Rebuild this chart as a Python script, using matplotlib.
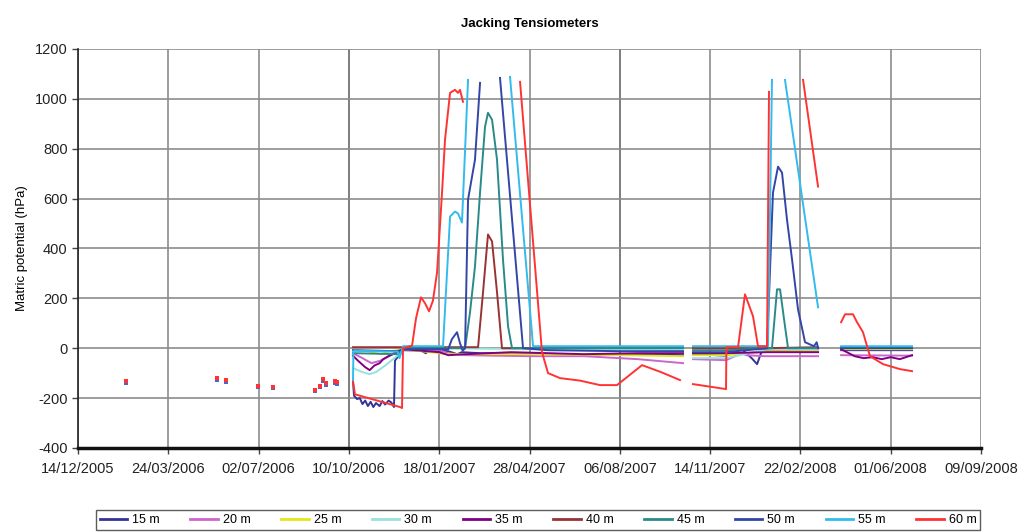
import numpy as np
import matplotlib
matplotlib.use("Agg")
import matplotlib.pyplot as plt
import matplotlib.dates as mdates
import datetime as dt

plt.rcParams['font.family'] = ['Liberation Sans', 'DejaVu Sans']
plt.rcParams['axes.unicode_minus'] = False

# x values are days after 14/12/2005 (first tick of the axis), nan = gap
start = mdates.date2num(dt.datetime(2005, 12, 14))
nan = np.nan

# isolated early readings (before installation period)
early_days = [53, 154, 164, 199, 216, 262, 268, 271, 275, 285, 287]
early_60 = [-132, -120, -128, -150, -154, -166, -150, -124, -140, -132, -136]
early_50 = [-140, -128, -134, -156, -160, -172, -156, -132, -146, -138, -142]

d15 = [304.5, 305.6, 309, 312, 315, 318, 321, 324, 327, 330, 334, 337, 340, 344, 347, 349.9,
       351, 355, 359.9, 380, 385, 390, 410, 420, 425, 445, 500, 560, 620, 670, 675,
       681, 717.6, 735, 746, 752, 757.5, 763, 819.5, 830, 845, 923.6]
v15 = [-130, -190, -204, -200, -224, -210, -232, -215, -236, -220, -232, -212, -226, -210, -218, -236,
       -50, -30, -8, -10, -20, -8, -12, -24, -16, -20, -20, -28, -24, -28, nan,
       -24, -30, -4, -40, -64, -8, -8, -4, nan, -8, -8]

d20 = [304.5, 315, 325, 335, 345, 354, 359.9, 400, 410, 430, 460, 500, 560, 620, 670, 675,
       681, 717.6, 735, 740, 760, 819.5, 830, 845, 923.6]
v20 = [-20, -40, -60, -50, -30, -10, -4, -8, -20, -28, -30, -32, -32, -44, -60, nan,
       -44, -48, -20, -28, -32, -32, nan, -28, -30]

d25 = [304.5, 320, 335, 345, 354, 359.9, 400, 410, 440, 500, 600, 670, 675,
       681, 717.6, 763, 819.5, 830, 845, 923.6]
v25 = [-8, -12, -24, -12, -8, -4, -20, -24, -24, -24, -28, -32, nan,
       -28, -28, -12, -12, nan, -4, -4]

d30 = [304.5, 315, 323, 330, 340, 353, 356, 359.9, 400, 500, 670, 675,
       681, 717.6, 763, 819.5, 830, 845, 923.6]
v30 = [-80, -96, -104, -96, -70, -32, -20, 0, 0, -4, -8, nan,
       -40, -40, -4, -4, nan, 4, 4]

d35 = [304.5, 310, 318, 323, 328, 334, 338, 345, 354, 359.9, 400, 410, 430, 480, 560, 620, 670, 675,
       681, 717.6, 763, 819.5, 830, 845, 860, 870, 880, 890, 900, 910, 923.6]
v35 = [-30, -50, -76, -88, -70, -60, -44, -30, -16, -4, -16, -28, -24, -16, -24, -20, -20, nan,
       -20, -20, -16, -16, nan, -4, -32, -40, -36, -44, -36, -44, -28]

d40 = [304.5, 359.9, 443, 448.5, 454, 458.5, 464, 469.5, 670, 675,
       681, 717.6, 763, 819.5, 830, 845, 923.6]
v40 = [4, 4, 4, 224, 456, 428, 224, 0, 2, nan,
       0, 0, 0, 4, nan, 2, 2]

d45 = [304.5, 354, 359.9, 428.6, 434.1, 439.6, 445.2, 450.7, 454, 458.5, 464, 470.6, 476.2, 480.6, 670, 675,
       681, 717.6, 768.5, 774.1, 777.4, 782.9, 786.3, 819.5, 830, 845, 923.6]
v45 = [-20, -24, 0, 0, 144, 328, 624, 888, 944, 916, 756, 356, 88, 0, 0, nan,
       -8, -8, 0, 236, 236, 88, 0, 0, nan, 4, 4]

d50 = [304.5, 354, 359.9, 410, 414, 419.7, 423, 426, 428.6, 431.9, 439.6, 445.2, 455,
       467.3, 492.8, 520, 600, 670, 675,
       681, 717.6, 763, 769.6, 775.2, 779.6, 785.1, 790.7, 797.3, 805.1, 815, 818, 819.5, 830, 845, 923.6]
v50 = [-8, -12, -4, -4, 36, 64, 20, -10, 0, 596, 756, 1064, nan,
       1084, 0, -8, -12, -12, nan,
       -16, -16, 0, 624, 728, 704, 516, 356, 156, 24, 8, 24, 0, nan, 0, 0]

d55 = [304.5, 305, 354, 356, 359.9, 404.2, 412, 417.5, 420.8, 425.2, 431.9, 450,
       478.4, 503.9, 520, 670, 675,
       681, 717.6, 764.1, 768.5, 775,
       782.9, 819.5, 830, 845, 923.6]
v55 = [-130, -10, -14, -40, 8, 8, 528, 548, 540, 504, 1076, nan,
       1088, 8, 8, 8, nan,
       8, 8, 8, 1076, nan,
       1076, 164, nan, 8, 8]

d60 = [304.5, 306.7, 356.6, 358.8, 359.9, 367.7, 369.9, 374.3, 379.8, 384.3, 388.7, 393, 397.6,
       403.1, 406.4, 412, 417.5, 420.8, 423, 426.3, 450,
       489.5, 513.8, 520.5, 533.8, 555.9, 578, 596.9, 610, 624.6, 645, 666.7, 675,
       681, 717.6, 718, 730.9, 738.6, 747.5, 753, 763, 765.2, 780,
       802.9, 819.5, 830,
       845, 849.4, 858.2, 862.7, 869.3, 877, 891.5, 910.3, 923.6]
v60 = [-135, -185, -236, -240, 0, 8, 10, 120, 204, 180, 148, 190, 304,
       624, 836, 1024, 1036, 1024, 1036, 988, nan,
       1068, -16, -100, -120, -130, -148, -148, -110, -68, -95, -128, nan,
       -144, -164, 4, 4, 216, 128, 8, 8, 1028, nan,
       1076, 648, nan,
       104, 136, 136, 104, 64, -32, -64, -84, -92]

labels = ['15 m', '20 m', '25 m', '30 m', '35 m', '40 m', '45 m', '50 m', '55 m', '60 m']
colors = ['#333399', '#cc66cc', '#e6e619', '#99e0e0', '#800080',
          '#993333', '#2a8a8a', '#3346a8', '#33bbee', '#ff3333']
days = [d15, d20, d25, d30, d35, d40, d45, d50, d55, d60]
vals = [v15, v20, v25, v30, v35, v40, v45, v50, v55, v60]

fig = plt.figure(figsize=(10.2, 5.32), dpi=100)
ax = fig.add_axes([0.0765, 0.158, 0.8853, 0.750])

for d, v, c, lab in zip(days, vals, colors, labels):
    ax.plot(start + np.array(d), v, color=c, lw=1.4, label=lab)

ax.plot(start + np.array(early_days), early_50, ls='none', marker='s', ms=2.5, color='#4a68c8', mew=0)
ax.plot(start + np.array(early_days), early_60, ls='none', marker='s', ms=2.5, color='#ff3333', mew=0)

ticks = start + np.arange(0, 1001, 100)
ax.set_xlim(ticks[0], ticks[-1])
ax.set_ylim(-400, 1200)
ax.set_xticks(ticks)
ax.set_yticks(np.arange(-400, 1201, 200))
ax.xaxis.set_major_formatter(mdates.DateFormatter('%d/%m/%Y'))

ax.grid(True, color='#8c8c8c', lw=1.2)
ax.set_axisbelow(True)
for t in [ticks[3], ticks[6]]:
    ax.axvline(t, color='#222222', lw=1.2, zorder=0.5)

for s in ['top', 'right']:
    ax.spines[s].set_visible(False)
ax.spines['left'].set_color('#222222')
ax.spines['left'].set_linewidth(1.2)
ax.spines['bottom'].set_color('#111111')
ax.spines['bottom'].set_linewidth(2.5)
ax.tick_params(axis='both', labelsize=10.5, length=4, width=1, color='#444444', labelcolor='#222222')
ax.tick_params(axis='x', pad=6)

ax.set_ylabel('Matric potential (hPa)', fontsize=9.5, labelpad=5)
ax.set_title('Jacking Tensiometers', fontsize=9.5, fontweight='bold', pad=16)

handles, labs = ax.get_legend_handles_labels()
leg = fig.legend(handles, labs, loc='lower left', bbox_to_anchor=(0.094, 0.004, 0.867, 0.042),
                 mode='expand', ncol=10, fontsize=9, frameon=True, fancybox=False,
                 handlelength=2.2, handletextpad=0.4, borderaxespad=0, borderpad=0.3)
leg.get_frame().set_edgecolor('#333333')
leg.get_frame().set_linewidth(1)
for h in leg.get_lines():
    h.set_linewidth(2)

fig.savefig('out.png', dpi=100)
